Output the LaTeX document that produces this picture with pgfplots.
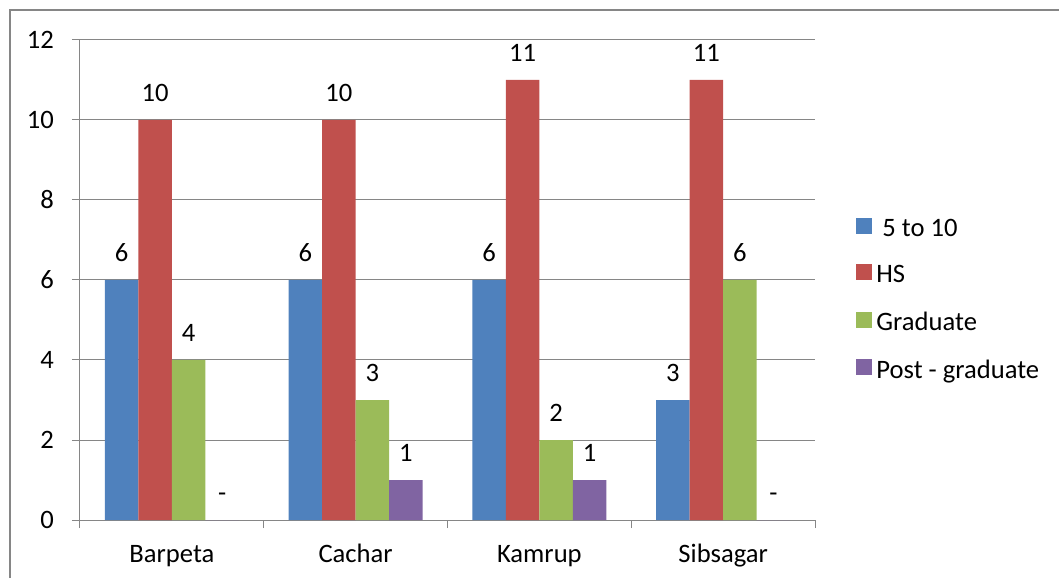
\documentclass[border=0pt]{standalone}
\usepackage{pgfplots}
\pgfplotsset{compat=1.18}
\usepackage{fontspec}
\setmainfont{Carlito}
\definecolor{cBlue}{HTML}{4F81BD}
\definecolor{cRed}{HTML}{C0504D}
\definecolor{cGreen}{HTML}{9BBB59}
\definecolor{cPurple}{HTML}{8064A2}
\definecolor{lineGray}{HTML}{868686}
\newcommand\cf{\fontsize{13.3}{15.5}\selectfont}
\begin{document}
\cf
\begin{tikzpicture}
\useasboundingbox (0,0) rectangle (529.5pt,289pt);
\draw[lineGray, line width=0.75pt] (5pt,0) -- (5pt,284pt) -- (529.5pt,284pt);
\begin{axis}[
    at={(40pt,29pt)}, anchor=south west,
    width=367.5pt, height=240pt, scale only axis,
    xmin=-0.5, xmax=3.5, ymin=0, ymax=12,
    ybar=0pt, bar width=16.75pt,
    axis lines=left, axis line style={-, lineGray, line width=0.5pt},
    tick align=outside, major tick length=4pt,
    tick style={lineGray, line width=0.5pt},
    xtick={-0.5,0.5,1.5,2.5,3.5}, xticklabels={},
    extra x ticks={0,1,2,3},
    extra x tick labels={Barpeta,Cachar,Kamrup,Sibsagar},
    extra x tick style={grid=none, major tick length=0pt,
        tick label style={anchor=base, yshift=-21pt}},
    ytick={0,2,...,12},
    yticklabel style={xshift=-4.5pt},
    ymajorgrids, grid style={lineGray, line width=0.5pt},
    tick label style={font=\cf, black},
    /pgf/number format/assume math mode=true,
    nodes near coords, point meta=explicit symbolic,
    nodes near coords style={font=\cf, black, anchor=south, inner sep=0pt, yshift=9pt},
    legend style={at={(1.0558,0.4565)}, anchor=west, draw=none, fill=none,
        font=\cf, inner sep=0pt, row sep=8.7pt,
        /tikz/every even column/.append style={column sep=3pt}},
    legend cell align=left,
    legend image code/.code={\fill[#1] (0pt,-2pt) rectangle (8pt,6pt);},
]
\addplot[fill=cBlue, draw=none] coordinates {(0,6)[6] (1,6)[6] (2,6)[6] (3,3)[3]};
\addlegendentry{\ 5 to 10}
\addplot[fill=cRed, draw=none] coordinates {(0,10)[10] (1,10)[10] (2,11)[11] (3,11)[11]};
\addlegendentry{HS}
\addplot[fill=cGreen, draw=none] coordinates {(0,4)[4] (1,3)[3] (2,2)[2] (3,6)[6]};
\addlegendentry{Graduate}
\addplot[fill=cPurple, draw=none] coordinates {(0,0)[-] (1,1)[1] (2,1)[1] (3,0)[-]};
\addlegendentry{Post - graduate}
\end{axis}
\end{tikzpicture}
\end{document}
